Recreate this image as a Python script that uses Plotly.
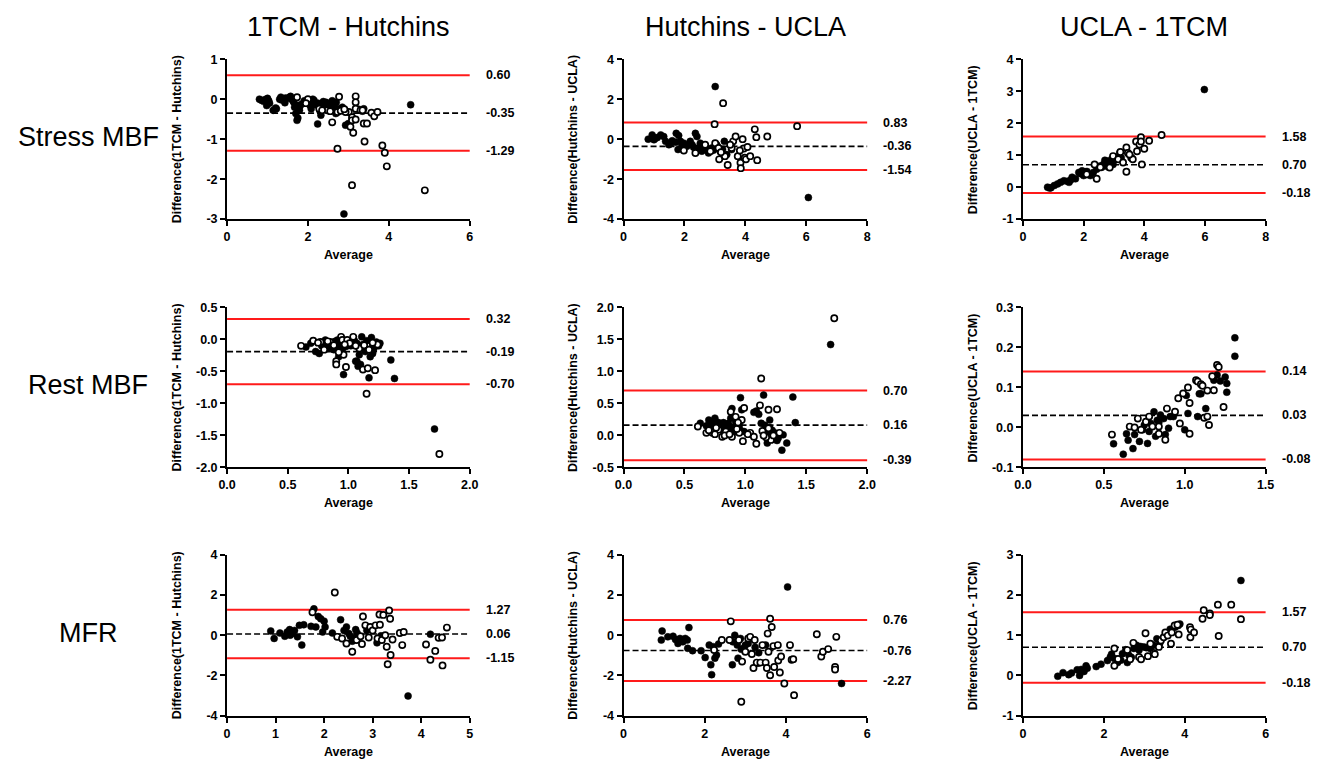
import plotly.graph_objects as go
from plotly.subplots import make_subplots

FONT = "Arial, 'Liberation Sans', Helvetica, sans-serif"

col_titles = ["1TCM - Hutchins", "Hutchins - UCLA", "UCLA - 1TCM"]
row_titles = ["Stress MBF", "Rest MBF", "MFR"]
y_titles = ["Difference(1TCM - Hutchins)", "Difference(Hutchins - UCLA)", "Difference(UCLA - 1TCM)"]

# Limits of agreement (upper, bias, lower), row-major panels
loa = [
    [0.60, -0.35, -1.29], [0.83, -0.36, -1.54], [1.58, 0.70, -0.18],
    [0.32, -0.19, -0.70], [0.70, 0.16, -0.39], [0.14, 0.03, -0.08],
    [1.27, 0.06, -1.15], [0.76, -0.76, -2.27], [1.57, 0.70, -0.18],
]
loa_labels = [
    ["0.60", "-0.35", "-1.29"], ["0.83", "-0.36", "-1.54"], ["1.58", "0.70", "-0.18"],
    ["0.32", "-0.19", "-0.70"], ["0.70", "0.16", "-0.39"], ["0.14", "0.03", "-0.08"],
    ["1.27", "0.06", "-1.15"], ["0.76", "-0.76", "-2.27"], ["1.57", "0.70", "-0.18"],
]

# Axis ranges and tick labels
x_ranges = [[0, 6], [0, 8], [0, 8], [0, 2], [0, 2], [0, 1.5], [0, 5], [0, 6], [0, 6]]
y_ranges = [[-3, 1], [-4, 4], [-1, 4], [-2, 0.5], [-0.5, 2], [-0.1, 0.3], [-4, 4], [-4, 4], [-1, 3]]
x_tickvals = [[0, 2, 4, 6], [0, 2, 4, 6, 8], [0, 2, 4, 6, 8],
              [0, 0.5, 1, 1.5, 2], [0, 0.5, 1, 1.5, 2], [0, 0.5, 1, 1.5],
              [0, 1, 2, 3, 4, 5], [0, 2, 4, 6], [0, 2, 4, 6]]
x_ticktext = [["0", "2", "4", "6"], ["0", "2", "4", "6", "8"], ["0", "2", "4", "6", "8"],
              ["0.0", "0.5", "1.0", "1.5", "2.0"], ["0.0", "0.5", "1.0", "1.5", "2.0"], ["0.0", "0.5", "1.0", "1.5"],
              ["0", "1", "2", "3", "4", "5"], ["0", "2", "4", "6"], ["0", "2", "4", "6"]]
y_tickvals = [[-3, -2, -1, 0, 1], [-4, -2, 0, 2, 4], [-1, 0, 1, 2, 3, 4],
              [-2, -1.5, -1, -0.5, 0, 0.5], [-0.5, 0, 0.5, 1, 1.5, 2], [-0.1, 0, 0.1, 0.2, 0.3],
              [-4, -2, 0, 2, 4], [-4, -2, 0, 2, 4], [-1, 0, 1, 2, 3]]
y_ticktext = [["-3", "-2", "-1", "0", "1"], ["-4", "-2", "0", "2", "4"], ["-1", "0", "1", "2", "3", "4"],
              ["-2.0", "-1.5", "-1.0", "-0.5", "0.0", "0.5"], ["-0.5", "0.0", "0.5", "1.0", "1.5", "2.0"],
              ["-0.1", "0.0", "0.1", "0.2", "0.3"],
              ["-4", "-2", "0", "2", "4"], ["-4", "-2", "0", "2", "4"], ["-1", "0", "1", "2", "3"]]

# ---- Stress MBF ----
stress_1tcm_hut_filled = [(0.80,0.00),(0.94,-0.01),(0.98,-0.16),(1.03,-0.04),(1.14,-0.28),(1.22,-0.24),(1.30,0.00),(1.33,0.05),
    (1.43,-0.09),(1.50,0.02),(1.57,0.07),(1.63,-0.04),(1.67,-0.20),(1.70,-0.36),(1.75,-0.47),(1.73,-0.53),(1.79,-0.28),(1.85,-0.12),
    (1.91,-0.04),(2.08,-0.24),(2.12,0.00),(2.16,-0.08),(2.20,-0.14),(2.24,-0.62),(2.32,-0.40),(2.38,-0.06),(2.44,-0.20),(2.52,-0.12),
    (2.60,-0.04),(2.65,-0.16),(2.56,-0.28),(2.69,-0.36),(2.77,-0.24),(2.93,-0.65),(3.00,-0.61),(2.89,-2.87),(4.54,-0.14),(3.38,-0.24),
    (0.90,-0.05),(1.55,0.05),(1.80,-0.18),(2.30,-0.30),(2.45,-0.08),(2.70,-0.08),
    (0.85,-0.03),(1.00,0.02),(1.05,-0.10),(1.20,-0.22),(1.35,-0.02),(1.45,0.03),(1.60,0.00),(1.65,-0.08),(1.75,-0.15),
    (2.00,-0.05),(2.05,-0.15),(2.15,-0.03),(2.25,-0.10),(2.40,-0.18),(2.50,-0.25),(2.62,-0.20),(2.75,-0.30),(2.85,-0.20),
    (3.25,-0.25),(3.35,-0.30)]
stress_1tcm_hut_open = [(1.73,0.05),(2.00,0.00),(2.28,-0.24),(2.48,-0.28),(2.77,0.06),(2.73,-0.32),(2.60,-0.58),(2.73,-1.24),
    (2.81,-0.29),(3.01,-0.32),(3.05,-0.69),(3.09,-0.45),(3.09,-0.53),(3.12,-0.84),(3.18,0.07),(3.18,-0.08),(3.18,-0.24),(3.18,-0.51),
    (3.09,-2.15),(3.38,-0.61),(3.46,-0.61),(3.40,-1.06),(3.57,-0.34),(3.64,-0.43),(3.72,-0.32),(3.30,-0.28),(3.84,-1.16),(3.90,-1.34),
    (3.95,-1.68),(4.89,-2.28),(2.93,-0.32),(1.95,-0.10),(2.35,-0.28),(2.55,-0.30),(2.90,-0.25),(3.35,-0.28)]

stress_hut_ucla_filled = [(0.81,0.00),(0.94,0.21),(1.00,-0.03),(1.11,0.08),(1.22,0.21),(1.32,0.13),(1.38,-0.11),(1.49,-0.28),
    (1.60,-0.08),(1.71,-0.15),(1.73,0.29),(1.81,0.18),(1.87,-0.11),(1.92,-0.28),(1.79,-0.52),(1.98,-0.20),(2.08,-0.36),(2.19,-0.11),
    (2.25,-0.28),(2.36,0.29),(2.41,0.13),(2.46,-0.44),(2.52,-0.20),(2.57,-0.60),(2.68,-0.36),(2.79,-0.69),(2.90,-0.44),(3.01,2.63),
    (3.06,-0.28),(3.17,-0.60),(3.31,-0.11),(3.39,-0.77),(3.55,-0.52),(6.07,-2.92),(2.62,-0.50),(2.95,-0.55),(1.05,0.05),(1.55,-0.20),
    (2.30,-0.40),(2.75,-0.55),(3.10,-0.40),(3.25,-0.50)]
stress_hut_ucla_open = [(1.98,-0.57),(2.36,-0.69),(2.68,-0.28),(2.99,0.75),(3.01,-0.20),(3.12,-0.44),(3.14,-1.01),(3.27,1.80),
    (3.33,-0.85),(3.42,-1.29),(3.55,-0.44),(3.60,-0.11),(3.68,0.13),(3.75,-0.85),(3.84,-1.18),(3.85,-1.45),(3.91,0.00),(3.95,-0.47),
    (3.98,-0.93),(4.02,-1.01),(4.07,-0.39),(4.16,-0.85),(4.31,0.49),(4.36,0.10),(4.39,-1.05),(4.72,0.13),(5.70,0.65),(3.82,-0.57),
    (3.50,-0.28),(2.85,-0.60),(3.20,-0.65)]

stress_ucla_1tcm_filled = [(0.81,0.00),(0.92,-0.02),(1.03,0.05),(1.14,0.10),(1.24,0.15),(1.35,0.20),(1.46,0.18),(1.57,0.22),
    (1.62,0.31),(1.73,0.26),(1.84,0.46),(1.95,0.51),(2.00,0.36),(2.11,0.49),(2.22,0.36),(2.32,0.46),(2.43,0.56),(2.54,0.66),
    (2.65,0.71),(2.76,0.82),(2.86,0.77),(2.92,0.87),(2.97,0.71),(3.08,0.92),(3.19,1.07),(3.24,0.92),(5.98,3.05),(2.70,0.84),
    (2.81,0.63),(1.90,0.42),(2.05,0.48),(2.60,0.62),(3.02,0.85),(0.88,-0.03),(1.52,0.15)]
stress_ucla_1tcm_open = [(2.43,0.26),(2.36,0.71),(2.86,0.61),(2.97,0.97),(3.14,0.87),(3.30,0.77),(3.41,1.24),(3.41,0.48),
    (3.46,1.07),(3.57,0.92),(3.62,0.87),(3.73,1.43),(3.76,1.12),(3.84,1.33),(3.89,1.56),(3.92,0.71),(3.89,1.43),(4.00,1.20),
    (4.16,1.45),(4.57,1.63),(3.21,1.10),(3.51,1.02),(2.10,0.40),(2.55,0.62)]

# ---- Rest MBF ----
rest_1tcm_hut_filled = [(0.65,-0.12),(0.69,-0.06),(0.73,-0.19),(0.76,-0.22),(0.79,-0.09),(0.81,-0.01),(0.84,-0.11),(0.87,-0.05),
    (0.88,-0.16),(0.91,-0.01),(0.92,-0.27),(0.94,-0.09),(0.96,-0.55),(0.98,-0.11),(1.00,-0.06),(1.03,-0.04),(1.06,-0.34),(1.07,-0.06),
    (1.09,-0.24),(1.10,-0.39),(1.11,0.04),(1.13,-0.14),(1.14,-0.19),(1.17,-0.60),(1.18,-0.27),(1.19,0.03),(1.21,-0.14),(1.23,-0.04),
    (1.26,-0.06),(1.35,-0.32),(1.38,-0.61),(1.71,-1.40),(1.07,-0.34),(0.90,-0.13),(0.95,-0.16),(0.83,-0.14),
    (0.78,-0.10),(0.82,-0.05),(0.86,-0.08),(0.89,-0.03),(0.93,-0.12),(0.97,-0.02),(1.02,-0.10),(1.05,-0.02),(1.12,-0.08),
    (1.15,-0.02),(1.20,-0.10),(1.25,-0.10),(1.08,-0.42),(1.20,-0.22)]
rest_1tcm_hut_open = [(0.61,-0.10),(0.71,-0.02),(0.77,-0.04),(0.85,-0.04),(0.90,-0.34),(0.90,-0.39),(0.94,0.04),(0.95,-0.01),
    (0.96,-0.24),(0.98,-0.43),(0.99,-0.01),(1.01,-0.06),(1.04,0.04),(1.09,-0.14),(1.12,-0.47),(1.13,-0.09),(1.16,-0.45),(1.17,-0.16),
    (1.22,-0.48),(1.15,-0.85),(1.75,-1.79),(0.88,-0.09),(0.80,-0.16),(1.24,-0.08),(0.92,-0.20),
    (0.75,-0.05),(0.83,-0.03),(0.97,-0.08),(1.06,-0.10),(1.20,-0.05)]

rest_hut_ucla_filled = [(0.63,0.19),(0.70,0.24),(0.73,0.19),(0.75,0.27),(0.77,0.14),(0.81,0.09),(0.83,0.16),(0.85,0.11),
    (0.86,0.19),(0.88,0.27),(0.89,0.42),(0.91,0.09),(0.92,0.21),(0.95,0.16),(0.96,0.59),(0.97,0.40),(0.99,0.06),(1.07,0.36),
    (1.09,0.38),(1.11,0.33),(1.13,0.19),(1.15,0.63),(1.16,0.16),(1.18,-0.12),(1.20,0.24),(1.22,-0.04),(1.24,0.04),(1.27,-0.04),
    (1.30,-0.23),(1.31,0.01),(1.34,-0.12),(1.39,0.60),(1.41,0.20),(1.70,1.42),(0.78,0.20),(0.90,0.12),
    (0.68,0.15),(0.72,0.12),(0.74,0.22),(0.80,0.15),(0.82,0.20),(0.84,0.08),(0.87,0.14),(0.90,0.05),(0.93,0.12),(0.96,0.08),
    (1.18,0.05),(1.20,0.12),(1.25,0.00),(1.28,0.02),(1.22,0.08),(1.26,-0.08)]
rest_hut_ucla_open = [(0.61,0.14),(0.68,0.04),(0.73,0.04),(0.78,0.09),(0.81,-0.02),(0.84,0.06),(0.88,0.37),(0.89,-0.02),
    (0.92,0.29),(0.95,0.04),(0.97,0.24),(0.98,-0.09),(0.99,0.43),(1.04,0.04),(1.07,-0.02),(1.09,-0.13),(1.12,0.47),(1.13,0.89),
    (1.14,0.07),(1.19,0.40),(1.19,0.11),(1.21,-0.07),(1.26,0.41),(1.28,0.04),(1.73,1.83),(0.76,0.12),(0.93,0.10),
    (0.70,0.08),(0.75,0.02),(0.83,0.00),(0.87,0.02),(0.94,0.20),(1.02,0.02),(1.17,-0.03),(1.23,0.00),(1.15,0.00)]

rest_ucla_1tcm_filled = [(0.56,-0.041),(0.62,-0.067),(0.64,-0.016),(0.65,-0.032),(0.68,-0.053),(0.69,-0.018),(0.72,-0.035),
    (0.74,-0.006),(0.75,0.006),(0.77,-0.040),(0.78,-0.010),(0.81,0.039),(0.82,-0.022),(0.83,0.018),(0.85,0.031),(0.87,0.022),
    (0.88,-0.018),(0.90,-0.002),(0.91,0.027),(0.93,0.027),(1.00,-0.006),(1.01,0.080),(1.02,0.035),(1.08,0.027),(1.09,0.084),
    (1.10,0.084),(1.13,0.047),(1.18,0.118),(1.20,0.131),(1.22,0.116),(1.25,0.126),(1.26,0.088),(1.26,0.110),(1.31,0.178),
    (1.31,0.224),(0.79,0.010),(0.84,0.012)]
rest_ucla_1tcm_open = [(0.55,-0.018),(0.66,0.002),(0.69,0.000),(0.71,0.022),(0.73,-0.006),(0.76,0.014),(0.78,0.027),(0.80,0.002),
    (0.84,0.002),(0.84,-0.016),(0.88,-0.031),(0.89,0.047),(0.94,0.039),(0.96,0.073),(0.97,0.010),(0.99,0.085),(1.02,0.100),
    (1.03,0.061),(1.03,-0.016),(1.07,0.118),(1.08,0.115),(1.10,0.108),(1.11,0.104),(1.12,0.024),(1.14,0.092),(1.15,0.006),
    (1.14,0.027),(1.17,0.128),(1.18,0.093),(1.20,0.156),(1.21,0.151),(1.24,0.051)]

# ---- MFR ----
mfr_1tcm_hut_filled = [(0.90,0.21),(0.97,-0.16),(1.09,0.11),(1.19,-0.05),(1.24,0.16),(1.29,0.28),(1.34,0.08),(1.39,0.24),
    (1.45,-0.08),(1.49,0.49),(1.54,-0.49),(1.58,0.52),(1.73,0.44),(1.79,1.31),(1.83,0.41),(1.88,0.93),(1.93,0.82),(1.97,0.16),
    (2.00,0.70),(2.02,0.41),(2.17,0.11),(2.34,0.77),(2.41,0.24),(2.46,0.41),(2.51,0.08),(2.54,-0.05),(2.61,-0.16),(2.65,0.28),
    (2.68,0.11),(2.88,0.24),(3.09,-0.38),(3.73,-3.02),(4.19,0.05),(3.17,-0.03),(1.30,0.00),(2.58,-0.30)]
mfr_1tcm_hut_open = [(1.76,1.14),(2.22,2.12),(2.27,-0.08),(2.37,-0.16),(2.46,-0.41),(2.58,-0.82),(2.67,-0.24),(2.75,-0.05),
    (2.78,-0.44),(2.80,0.93),(2.85,0.49),(2.92,-0.11),(2.95,0.41),(3.00,0.24),(3.06,0.49),(3.10,-0.16),(3.14,1.03),(3.19,-0.24),
    (3.22,1.01),(3.26,0.00),(3.29,-0.57),(3.31,-1.44),(3.34,1.23),(3.36,0.82),(3.37,-0.98),(3.41,-0.21),(3.56,0.11),(3.64,0.16),
    (3.61,-0.49),(4.10,-0.46),(4.19,-1.22),(4.29,-0.78),(4.36,-0.13),(4.43,-0.11),(4.44,-1.50),(4.53,0.38),(3.15,0.52)]

mfr_hut_ucla_filled = [(0.95,0.21),(0.93,-0.24),(1.09,-0.08),(1.22,-0.05),(1.28,-0.21),(1.34,-0.41),(1.39,-0.16),(1.46,-0.33),
    (1.52,-0.16),(1.57,-0.24),(1.61,0.38),(1.58,-0.65),(1.70,-0.77),(1.91,-0.77),(2.01,-1.11),(2.11,-0.49),(2.15,-1.47),(2.17,-1.96),
    (2.21,-0.57),(2.25,-1.14),(2.29,-0.98),(2.34,-0.44),(2.68,-1.47),(2.69,-0.33),(2.74,0.00),(2.80,-0.49),(2.82,-1.14),(2.88,-0.16),
    (2.90,-0.70),(2.96,-0.65),(3.00,-0.49),(3.07,-0.41),(3.24,-0.60),(3.31,-1.39),(3.33,-0.87),(3.50,-0.49),(4.04,2.40),(5.37,-2.40)]
mfr_hut_ucla_open = [(2.23,-0.73),(2.42,-0.24),(2.64,0.69),(2.61,-0.24),(2.84,-0.24),(2.90,-3.31),(2.92,-1.31),(3.00,-0.82),
    (3.07,-0.16),(3.12,-0.08),(3.16,-0.93),(3.20,-1.63),(3.23,-0.24),(3.28,-1.36),(3.37,-1.36),(3.42,-0.49),(3.50,-1.36),(3.53,-1.63),
    (3.55,0.08),(3.57,-0.82),(3.61,-1.99),(3.61,0.82),(3.65,0.41),(3.69,-0.54),(3.71,-1.58),(3.80,-0.49),(3.81,-1.26),(3.88,-1.06),
    (3.85,-1.85),(3.96,-2.40),(4.10,-0.49),(4.14,-1.22),(4.18,-1.19),(4.20,-2.98),(4.76,0.05),(4.87,-1.06),(4.91,-0.82),(5.04,-0.69),
    (5.21,-1.58),(5.21,-1.71),(5.24,-0.08)]

mfr_ucla_1tcm_filled = [(0.86,-0.02),(0.99,0.07),(1.13,0.02),(1.20,0.06),(1.34,0.14),(1.40,0.00),(1.44,0.15),(1.51,0.10),
    (1.56,0.24),(1.59,0.18),(1.81,0.22),(1.93,0.28),(2.09,0.37),(2.16,0.46),(2.19,0.53),(2.26,0.42),(2.34,0.32),(2.42,0.38),
    (2.46,0.54),(2.54,0.64),(2.58,0.32),(2.62,0.50),(2.68,0.45),(2.74,0.67),(2.81,0.75),(2.87,0.63),(2.91,0.72),(2.99,0.71),
    (3.05,0.69),(3.15,0.67),(3.23,0.75),(3.31,0.91),(3.38,0.79),(3.76,1.20),(3.84,1.24),(3.88,1.28),(5.39,2.36),(3.64,1.15)]
mfr_ucla_1tcm_open = [(2.26,0.24),(2.26,0.67),(2.35,0.41),(2.58,0.63),(2.65,0.40),(2.73,0.81),(2.87,0.46),(2.92,0.40),
    (3.03,1.05),(3.09,0.48),(3.15,0.79),(3.23,0.56),(3.26,0.53),(3.36,0.71),(3.41,0.87),(3.48,0.95),(3.52,1.07),(3.58,0.99),
    (3.66,0.79),(3.68,1.07),(3.75,1.24),(3.82,1.26),(3.85,1.02),(4.13,1.20),(4.14,0.95),(4.15,1.14),(4.23,1.07),(4.44,1.41),
    (4.47,1.62),(4.62,1.54),(4.62,1.50),(4.82,1.76),(4.84,0.98),(5.15,1.76),(5.39,1.40)]

filled_sets = [stress_1tcm_hut_filled, stress_hut_ucla_filled, stress_ucla_1tcm_filled,
               rest_1tcm_hut_filled, rest_hut_ucla_filled, rest_ucla_1tcm_filled,
               mfr_1tcm_hut_filled, mfr_hut_ucla_filled, mfr_ucla_1tcm_filled]
open_sets = [stress_1tcm_hut_open, stress_hut_ucla_open, stress_ucla_1tcm_open,
             rest_1tcm_hut_open, rest_hut_ucla_open, rest_ucla_1tcm_open,
             mfr_1tcm_hut_open, mfr_hut_ucla_open, mfr_ucla_1tcm_open]

# The html page keeps the browser's default 8px body margin; size the figure so page == window.
PAGE_W, PAGE_H, OFF = 1326, 767, 8
W, H = PAGE_W - 2 * OFF, PAGE_H - 2 * OFF
x_dom_px = [(221, 467), (623, 870), (1028, 1274)]   # page pixels
y_dom_px = [(53, 216), (306, 469), (558, 722)]


def px_x(p):
    return (p - OFF) / W


def px_y(p):
    return 1 - (p - OFF) / H


fig = make_subplots(rows=3, cols=3)
tick_font = dict(family=FONT, size=12.5, color="black", weight="bold")

for r in range(3):
    for c in range(3):
        k = r * 3 + c
        s = "" if k == 0 else str(k + 1)
        for j, v in enumerate(loa[k]):
            if j == 1:
                line = dict(color="black", width=1.6, dash="6px,3px")
            else:
                line = dict(color="#FF1A1A", width=2)
            fig.add_shape(type="line", xref=f"x{s} domain", yref=f"y{s}", x0=0, x1=1, y0=v, y1=v,
                          line=line, layer="below")
            fig.add_annotation(xref=f"x{s} domain", yref=f"y{s}", x=1, y=v, xanchor="left", yanchor="middle",
                               xshift=14, text=loa_labels[k][j], showarrow=False, font=tick_font)
        fx = [p[0] for p in filled_sets[k]]
        fy = [p[1] for p in filled_sets[k]]
        ox = [p[0] for p in open_sets[k]]
        oy = [p[1] for p in open_sets[k]]
        fig.add_trace(go.Scatter(x=fx, y=fy, mode="markers", cliponaxis=False, showlegend=False,
                                 marker=dict(color="black", size=7, line=dict(color="black", width=0.5))),
                      row=r + 1, col=c + 1)
        fig.add_trace(go.Scatter(x=ox, y=oy, mode="markers", cliponaxis=False, showlegend=False,
                                 marker=dict(color="white", size=6.2, line=dict(color="black", width=1.7))),
                      row=r + 1, col=c + 1)
        x0, x1 = x_dom_px[c]
        y0, y1 = y_dom_px[r]
        common = dict(showline=True, linecolor="black", linewidth=2, ticks="outside", ticklen=5, tickwidth=2,
                      tickcolor="black", showgrid=False, zeroline=False, tickfont=tick_font)
        fig.update_xaxes(domain=[px_x(x0), px_x(x1)], range=x_ranges[k], tickvals=x_tickvals[k],
                         ticktext=x_ticktext[k], row=r + 1, col=c + 1, **common)
        fig.update_yaxes(domain=[px_y(y1), px_y(y0)], range=y_ranges[k], tickvals=y_tickvals[k],
                         ticktext=y_ticktext[k], row=r + 1, col=c + 1, **common)
        fig.add_annotation(xref=f"x{s} domain", yref=f"y{s} domain", x=0.5, y=0, yshift=-36,
                           xanchor="center", yanchor="middle", text="Average", showarrow=False, font=tick_font)
        fig.add_annotation(xref=f"x{s} domain", yref=f"y{s} domain", x=0, y=0.5, xshift=-50,
                           xanchor="center", yanchor="middle", textangle=-90, text=y_titles[c],
                           showarrow=False, font=tick_font)

title_font = dict(family=FONT, size=27, color="black")
for c in range(3):
    x0, x1 = x_dom_px[c]
    fig.add_annotation(xref="paper", yref="paper", x=px_x((x0 + x1) / 2), y=px_y(20), xanchor="center",
                       yanchor="middle", text=col_titles[c], showarrow=False, font=title_font)
for r in range(3):
    y0, y1 = y_dom_px[r]
    fig.add_annotation(xref="paper", yref="paper", x=px_x(80), y=px_y((y0 + y1) / 2 - 2), xanchor="center",
                       yanchor="middle", text=row_titles[r], showarrow=False, font=title_font)

fig.update_layout(width=W, height=H, margin=dict(l=0, r=0, t=0, b=0), paper_bgcolor="white",
                  plot_bgcolor="white", showlegend=False)

fig.write_html("out.html", config={"displayModeBar": False})
